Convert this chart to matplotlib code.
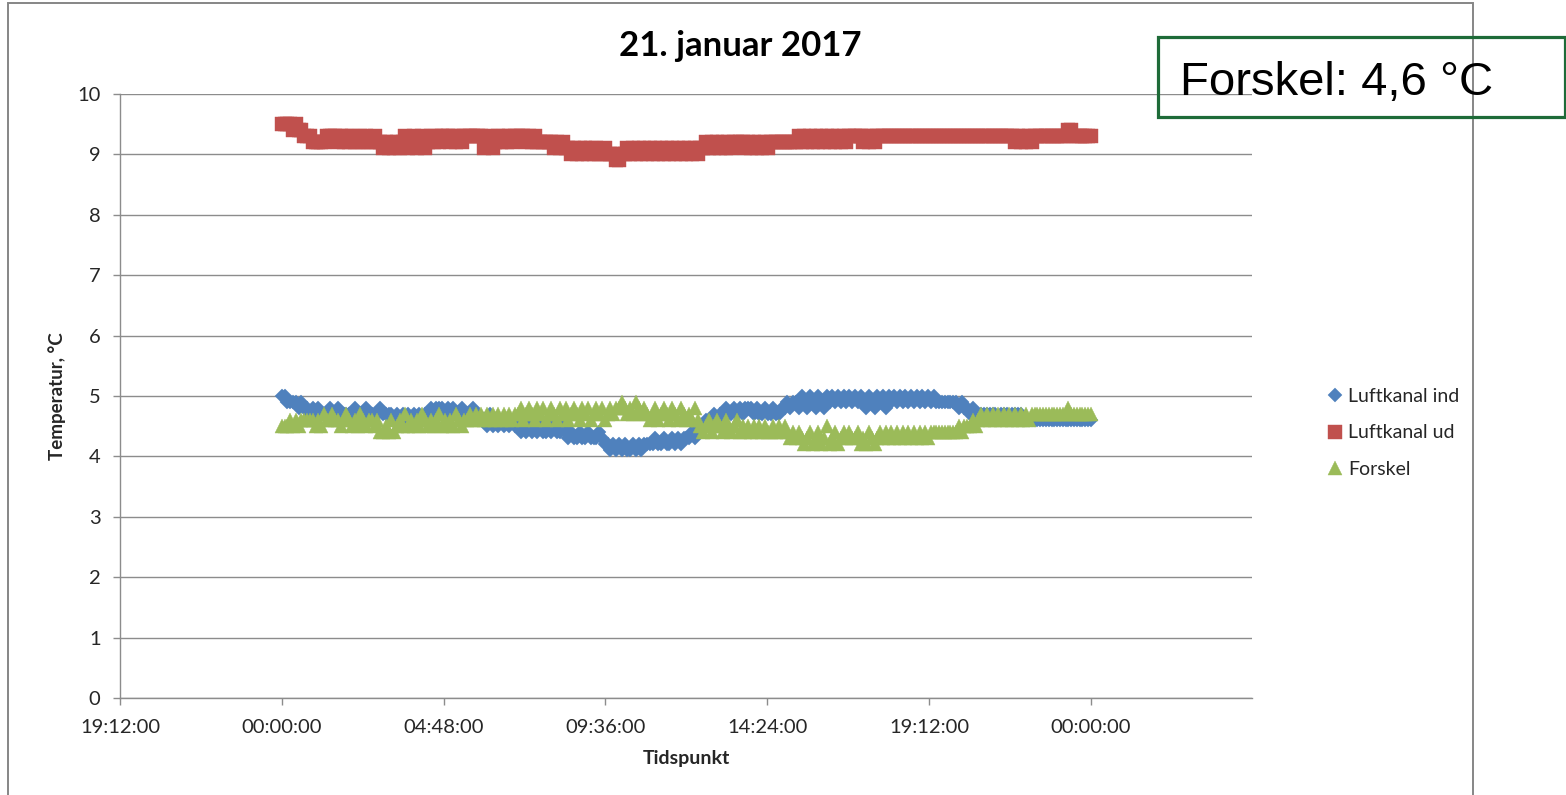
import numpy as np
import matplotlib
matplotlib.use("Agg")
import matplotlib.pyplot as plt
from matplotlib.patches import Rectangle

# ---------------- data ----------------
title = "21. januar 2017"
x_label = "Tidspunkt"
y_label = "Temperatur, °C"
series_names = ["Luftkanal ind", "Luftkanal ud", "Forskel"]
box_text = "Forskel: 4,6 °C"

# readings every 5 minutes from 00:00 to 24:00 (hours since midnight)
start_hour = 0.0
step_hours = 5 / 60

luftkanal_ind = [
    5.0, 5.0, 4.9, 4.9, 4.9, 4.9, 4.8, 4.9, 4.8, 4.8, 4.7, 4.8,   # 00
    4.7, 4.8, 4.7, 4.7, 4.7, 4.8, 4.7, 4.7, 4.8, 4.7, 4.7, 4.7,   # 01
    4.7, 4.7, 4.8, 4.7, 4.7, 4.7, 4.8, 4.7, 4.7, 4.7, 4.7, 4.8,   # 02
    4.7, 4.7, 4.7, 4.7, 4.6, 4.7, 4.6, 4.7, 4.6, 4.7, 4.6, 4.7,   # 03
    4.6, 4.7, 4.6, 4.7, 4.7, 4.8, 4.7, 4.8, 4.8, 4.8, 4.7, 4.8,   # 04
    4.7, 4.8, 4.7, 4.7, 4.8, 4.7, 4.7, 4.7, 4.8, 4.7, 4.7, 4.6,   # 05
    4.6, 4.5, 4.7, 4.5, 4.6, 4.5, 4.6, 4.5, 4.6, 4.5, 4.6, 4.5,   # 06
    4.5, 4.4, 4.5, 4.4, 4.5, 4.4, 4.5, 4.4, 4.5, 4.4, 4.4, 4.5,   # 07
    4.4, 4.5, 4.4, 4.4, 4.5, 4.4, 4.3, 4.4, 4.3, 4.3, 4.4, 4.3,   # 08
    4.3, 4.4, 4.3, 4.3, 4.3, 4.4, 4.3, 4.2, 4.2, 4.1, 4.2, 4.1,   # 09
    4.2, 4.1, 4.2, 4.1, 4.1, 4.2, 4.1, 4.2, 4.1, 4.2, 4.2, 4.2,   # 10
    4.2, 4.3, 4.2, 4.2, 4.3, 4.2, 4.2, 4.3, 4.2, 4.3, 4.2, 4.3,   # 11
    4.3, 4.3, 4.4, 4.3, 4.4, 4.5, 4.5, 4.6, 4.5, 4.6, 4.7, 4.6,   # 12
    4.7, 4.7, 4.8, 4.7, 4.7, 4.8, 4.7, 4.8, 4.7, 4.8, 4.8, 4.8,   # 13
    4.7, 4.8, 4.7, 4.7, 4.8, 4.7, 4.7, 4.8, 4.7, 4.7, 4.8, 4.8,   # 14
    4.9, 4.8, 4.9, 4.9, 4.8, 5.0, 4.9, 4.8, 5.0, 4.9, 4.8, 5.0,   # 15
    4.9, 4.8, 5.0, 4.9, 5.0, 4.9, 5.0, 4.9, 5.0, 4.9, 5.0, 4.9,   # 16
    5.0, 4.9, 5.0, 4.9, 4.8, 5.0, 4.9, 4.8, 5.0, 4.9, 5.0, 4.8,   # 17
    5.0, 4.9, 5.0, 4.9, 5.0, 4.9, 5.0, 4.9, 5.0, 4.9, 5.0, 4.9,   # 18
    5.0, 4.9, 5.0, 4.9, 5.0, 4.9, 4.9, 4.9, 4.9, 4.9, 4.9, 4.9,   # 19
    4.9, 4.8, 4.9, 4.8, 4.8, 4.7, 4.8, 4.7, 4.7, 4.7, 4.7, 4.7,   # 20
    4.7, 4.7, 4.7, 4.6, 4.7, 4.7, 4.7, 4.6, 4.7, 4.7, 4.7, 4.7,   # 21
    4.6, 4.6, 4.6, 4.6, 4.6, 4.6, 4.6, 4.6, 4.6, 4.6, 4.6, 4.6,   # 22
    4.6, 4.6, 4.6, 4.6, 4.6, 4.6, 4.6, 4.6, 4.6, 4.6, 4.6, 4.6,   # 23
    4.6,                                                          # 24
]
luftkanal_ud = [
    9.5, 9.5, 9.5, 9.5, 9.4, 9.5, 9.4, 9.4, 9.3, 9.3, 9.3, 9.2,   # 00
    9.2, 9.2, 9.2, 9.2, 9.3, 9.3, 9.3, 9.3, 9.2, 9.3, 9.2, 9.3,   # 01
    9.2, 9.3, 9.2, 9.2, 9.3, 9.2, 9.3, 9.2, 9.2, 9.3, 9.2, 9.2,   # 02
    9.1, 9.2, 9.1, 9.2, 9.1, 9.2, 9.1, 9.2, 9.3, 9.1, 9.2, 9.3,   # 03
    9.1, 9.2, 9.3, 9.1, 9.2, 9.3, 9.2, 9.3, 9.2, 9.3, 9.3, 9.3,   # 04
    9.2, 9.3, 9.2, 9.3, 9.2, 9.3, 9.3, 9.3, 9.3, 9.3, 9.3, 9.3,   # 05
    9.1, 9.2, 9.3, 9.1, 9.2, 9.3, 9.2, 9.3, 9.2, 9.3, 9.2, 9.3,   # 06
    9.3, 9.3, 9.3, 9.2, 9.3, 9.2, 9.3, 9.2, 9.2, 9.2, 9.2, 9.2,   # 07
    9.2, 9.1, 9.2, 9.1, 9.2, 9.1, 9.1, 9.0, 9.1, 9.0, 9.1, 9.0,   # 08
    9.1, 9.0, 9.1, 9.0, 9.1, 9.0, 9.0, 9.1, 9.0, 9.0, 9.0, 8.9,   # 09
    8.9, 9.0, 9.0, 9.1, 9.0, 9.1, 9.0, 9.1, 9.0, 9.1, 9.0, 9.1,   # 10
    9.0, 9.1, 9.0, 9.1, 9.0, 9.1, 9.0, 9.1, 9.0, 9.1, 9.0, 9.1,   # 11
    9.0, 9.1, 9.0, 9.1, 9.0, 9.1, 9.1, 9.2, 9.1, 9.2, 9.1, 9.2,   # 12
    9.1, 9.2, 9.1, 9.2, 9.1, 9.2, 9.2, 9.2, 9.2, 9.1, 9.2, 9.1,   # 13
    9.2, 9.1, 9.2, 9.1, 9.2, 9.1, 9.2, 9.2, 9.2, 9.2, 9.2, 9.2,   # 14
    9.2, 9.2, 9.2, 9.2, 9.3, 9.2, 9.3, 9.2, 9.3, 9.2, 9.3, 9.2,   # 15
    9.3, 9.2, 9.3, 9.2, 9.3, 9.2, 9.3, 9.2, 9.3, 9.2, 9.3, 9.3,   # 16
    9.3, 9.3, 9.3, 9.2, 9.3, 9.2, 9.3, 9.2, 9.3, 9.3, 9.3, 9.3,   # 17
    9.3, 9.3, 9.3, 9.3, 9.3, 9.3, 9.3, 9.3, 9.3, 9.3, 9.3, 9.3,   # 18
    9.3, 9.3, 9.3, 9.3, 9.3, 9.3, 9.3, 9.3, 9.3, 9.3, 9.3, 9.3,   # 19
    9.3, 9.3, 9.3, 9.3, 9.3, 9.3, 9.3, 9.3, 9.3, 9.3, 9.3, 9.3,   # 20
    9.3, 9.3, 9.3, 9.3, 9.3, 9.3, 9.3, 9.3, 9.3, 9.2, 9.3, 9.2,   # 21
    9.3, 9.2, 9.3, 9.2, 9.3, 9.3, 9.3, 9.3, 9.3, 9.3, 9.3, 9.3,   # 22
    9.3, 9.3, 9.3, 9.3, 9.4, 9.4, 9.3, 9.3, 9.3, 9.3, 9.3, 9.3,   # 23
    9.3,                                                          # 24
]
forskel = [
    4.5, 4.5, 4.5, 4.6, 4.5, 4.6, 4.5, 4.6, 4.6, 4.6, 4.6, 4.6,   # 00
    4.5, 4.6, 4.5, 4.7, 4.6, 4.6, 4.7, 4.6, 4.6, 4.5, 4.6, 4.7,   # 01
    4.6, 4.5, 4.6, 4.5, 4.7, 4.6, 4.5, 4.6, 4.6, 4.5, 4.6, 4.4,   # 02
    4.4, 4.5, 4.4, 4.6, 4.4, 4.5, 4.6, 4.5, 4.7, 4.5, 4.6, 4.5,   # 03
    4.6, 4.5, 4.7, 4.6, 4.5, 4.6, 4.5, 4.6, 4.7, 4.5, 4.6, 4.5,   # 04
    4.6, 4.5, 4.7, 4.6, 4.5, 4.6, 4.6, 4.7, 4.6, 4.7, 4.6, 4.7,   # 05
    4.6, 4.7, 4.6, 4.7, 4.6, 4.7, 4.6, 4.7, 4.6, 4.7, 4.6, 4.7,   # 06
    4.7, 4.8, 4.6, 4.7, 4.8, 4.7, 4.6, 4.8, 4.7, 4.8, 4.6, 4.7,   # 07
    4.8, 4.7, 4.6, 4.8, 4.7, 4.8, 4.6, 4.7, 4.8, 4.7, 4.6, 4.8,   # 08
    4.7, 4.8, 4.6, 4.7, 4.8, 4.7, 4.8, 4.6, 4.7, 4.8, 4.7, 4.8,   # 09
    4.8, 4.9, 4.8, 4.7, 4.8, 4.7, 4.9, 4.8, 4.7, 4.8, 4.7, 4.6,   # 10
    4.7, 4.8, 4.6, 4.7, 4.8, 4.7, 4.6, 4.8, 4.7, 4.6, 4.8, 4.7,   # 11
    4.6, 4.7, 4.6, 4.8, 4.6, 4.5, 4.4, 4.5, 4.6, 4.4, 4.5, 4.6,   # 12
    4.5, 4.4, 4.6, 4.5, 4.4, 4.5, 4.6, 4.4, 4.5, 4.4, 4.5, 4.4,   # 13
    4.5, 4.4, 4.5, 4.4, 4.5, 4.4, 4.4, 4.5, 4.4, 4.5, 4.4, 4.5,   # 14
    4.4, 4.3, 4.4, 4.3, 4.4, 4.3, 4.2, 4.3, 4.4, 4.2, 4.3, 4.4,   # 15
    4.2, 4.3, 4.5, 4.2, 4.3, 4.4, 4.2, 4.3, 4.4, 4.3, 4.4, 4.3,   # 16
    4.3, 4.4, 4.2, 4.3, 4.2, 4.4, 4.3, 4.2, 4.3, 4.4, 4.3, 4.4,   # 17
    4.3, 4.4, 4.3, 4.4, 4.3, 4.4, 4.3, 4.4, 4.3, 4.4, 4.3, 4.4,   # 18
    4.3, 4.4, 4.3, 4.4, 4.4, 4.4, 4.4, 4.4, 4.4, 4.4, 4.4, 4.4,   # 19
    4.4, 4.5, 4.4, 4.5, 4.5, 4.5, 4.6, 4.5, 4.6, 4.7, 4.6, 4.7,   # 20
    4.6, 4.7, 4.6, 4.7, 4.6, 4.7, 4.6, 4.7, 4.6, 4.7, 4.6, 4.7,   # 21
    4.6, 4.7, 4.6, 4.7, 4.7, 4.7, 4.7, 4.7, 4.7, 4.7, 4.7, 4.7,   # 22
    4.7, 4.7, 4.7, 4.7, 4.8, 4.7, 4.7, 4.7, 4.7, 4.7, 4.7, 4.7,   # 23
    4.7,                                                          # 24
]
assert len(luftkanal_ind) == len(luftkanal_ud) == len(forskel)

x_tick_hours = [-4.8, 0.0, 4.8, 9.6, 14.4, 19.2, 24.0]
x_tick_labels = ["19:12:00", "00:00:00", "04:48:00", "09:36:00",
                 "14:24:00", "19:12:00", "00:00:00"]
y_ticks = list(range(0, 11))

# ---------------- figure ----------------
W, H = 1566, 795
fig = plt.figure(figsize=(W / 100, H / 100), dpi=100)
FONT = "Lato"
TXT = "#262626"
GRID = "#8c8c8c"

def fx(px):
    return px / W

def fy(py):
    return 1 - py / H

ax = fig.add_axes([fx(120), fy(698), fx(1252) - fx(120), fy(94) - fy(698)])

hours = start_hour + step_hours * np.arange(len(luftkanal_ind))

ax.plot(hours, luftkanal_ind, linestyle="none", marker="D", ms=7.2,
        color="#4F81BD", mec="#4F81BD", mew=0.3, label=series_names[0], zorder=3)
ax.plot(hours, luftkanal_ud, linestyle="none", marker="s", ms=9.8,
        color="#C0504D", mec="#C0504D", mew=0.3, label=series_names[1], zorder=4)
ax.plot(hours, forskel, linestyle="none", marker="^", ms=10,
        color="#9BBB59", mec="#9BBB59", mew=0.3, label=series_names[2], zorder=5)

ax.set_xlim(-4.8, 28.78)
ax.set_ylim(0, 10)
ax.set_xticks(x_tick_hours)
ax.set_xticklabels(x_tick_labels)
ax.set_yticks(y_ticks)
ax.grid(axis="y", color=GRID, linewidth=1.0, zorder=0)
ax.set_axisbelow(True)
for s in ["top", "right"]:
    ax.spines[s].set_visible(False)
for s in ["left", "bottom"]:
    ax.spines[s].set_color(GRID)
    ax.spines[s].set_linewidth(1.0)
ax.tick_params(axis="both", direction="out", length=5, width=1.0, color=GRID,
               labelsize=14.5, labelcolor=TXT)
ax.tick_params(axis="x", pad=10)
ax.tick_params(axis="y", pad=9)
for lab in ax.get_xticklabels() + ax.get_yticklabels():
    lab.set_fontfamily(FONT)

ax.set_xlabel(x_label, fontfamily=FONT, fontsize=14, fontweight="bold",
              color=TXT, labelpad=10)
ax.set_ylabel(y_label, fontfamily=FONT, fontsize=13.5, fontweight="bold",
              color=TXT, labelpad=8)

fig.text(fx(740), fy(46), title, ha="center", va="center", fontfamily=FONT,
         fontsize=25, fontweight="bold", color="#000000")

leg = ax.legend(loc="center left", bbox_to_anchor=(fx(1318), fy(433)),
                bbox_transform=fig.transFigure, frameon=False,
                prop={"family": FONT, "size": 14}, handlelength=0.75,
                handletextpad=0.3, labelspacing=1.0, borderpad=0)
for t in leg.get_texts():
    t.set_color(TXT)

# chart area border
fig.patches.append(Rectangle((fx(8), fy(800)), fx(1473) - fx(8), fy(3) - fy(800),
                             transform=fig.transFigure, fill=False,
                             edgecolor="#868686", linewidth=1.4, clip_on=False))

# annotation box
fig.patches.append(Rectangle((fx(1158), fy(117)), fx(1565) - fx(1158), fy(37) - fy(117),
                             transform=fig.transFigure, fill=False,
                             edgecolor="#1E6B38", linewidth=2.3, zorder=10))
fig.text(fx(1180), fy(95), box_text, ha="left", va="baseline",
         fontfamily="Liberation Sans", fontsize=34, color="#000000", zorder=11)

fig.savefig("out.png", dpi=100)
